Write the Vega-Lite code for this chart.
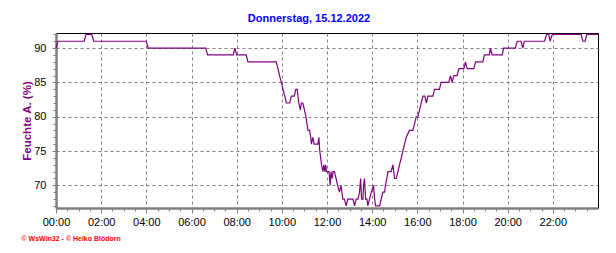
{
  "$schema": "https://vega.github.io/schema/vega-lite/v6.json",
  "width": 542,
  "height": 175,
  "autosize": {"type": "none"},
  "padding": {"left": 56, "top": 33, "right": 18, "bottom": 45},
  "background": "white",
  "title": {"text": "Donnerstag, 15.12.2022", "color": "#0000FF", "fontSize": 11, "fontWeight": "bold", "font": "Liberation Sans", "offset": 8, "dx": -18},
  "data": {"values": [
    {"h":0,"v":90},{"h":0.08,"v":91},{"h":1.25,"v":91},{"h":1.33,"v":92},{"h":1.58,"v":92},{"h":1.67,"v":91},
    {"h":4.0,"v":91},{"h":4.08,"v":90},{"h":6.63,"v":90},{"h":6.71,"v":89},{"h":7.85,"v":89},{"h":7.92,"v":90},
    {"h":8.0,"v":89},{"h":8.42,"v":89},{"h":8.5,"v":88},{"h":9.75,"v":88},{"h":9.83,"v":87},{"h":9.9,"v":86},
    {"h":9.98,"v":85},{"h":10.05,"v":84},{"h":10.13,"v":83},{"h":10.2,"v":82},{"h":10.35,"v":82},{"h":10.42,"v":83},
    {"h":10.55,"v":83},{"h":10.62,"v":84},{"h":10.68,"v":84},{"h":10.75,"v":82},{"h":10.82,"v":81},{"h":10.87,"v":82},
    {"h":10.93,"v":82},{"h":11.0,"v":81},{"h":11.07,"v":80},{"h":11.11,"v":79},{"h":11.16,"v":78},{"h":11.23,"v":78},
    {"h":11.28,"v":77},{"h":11.31,"v":76},{"h":11.37,"v":77},{"h":11.43,"v":76},{"h":11.6,"v":76},{"h":11.64,"v":77},
    {"h":11.68,"v":75},{"h":11.72,"v":74},{"h":11.76,"v":73},{"h":11.82,"v":72},{"h":11.86,"v":73},{"h":11.91,"v":72},
    {"h":11.94,"v":73},{"h":11.98,"v":72},{"h":12.09,"v":72},{"h":12.14,"v":70},{"h":12.18,"v":72},{"h":12.23,"v":71},
    {"h":12.27,"v":72},{"h":12.33,"v":72},{"h":12.4,"v":71},{"h":12.47,"v":70},{"h":12.55,"v":69},{"h":12.62,"v":70},
    {"h":12.7,"v":68},{"h":12.77,"v":68},{"h":12.85,"v":67},{"h":12.92,"v":68},{"h":13.15,"v":68},{"h":13.22,"v":67},
    {"h":13.29,"v":68},{"h":13.37,"v":68},{"h":13.44,"v":69},{"h":13.49,"v":71},{"h":13.53,"v":68},{"h":13.59,"v":68},
    {"h":13.62,"v":70},{"h":13.66,"v":71},{"h":13.71,"v":68},{"h":13.77,"v":68},{"h":13.81,"v":67},{"h":13.88,"v":68},
    {"h":13.96,"v":69},{"h":14.06,"v":70},{"h":14.11,"v":68},{"h":14.15,"v":67},{"h":14.33,"v":67},{"h":14.4,"v":68},
    {"h":14.47,"v":69},{"h":14.55,"v":69},{"h":14.59,"v":70},{"h":14.65,"v":71},{"h":14.7,"v":72},{"h":14.84,"v":72},
    {"h":14.92,"v":73},{"h":14.99,"v":71},{"h":15.07,"v":71},{"h":15.14,"v":72},{"h":15.21,"v":73},{"h":15.29,"v":74},
    {"h":15.36,"v":75},{"h":15.43,"v":76},{"h":15.51,"v":77},{"h":15.65,"v":78},{"h":15.8,"v":78},{"h":15.88,"v":79},
    {"h":15.95,"v":80},{"h":16.02,"v":80},{"h":16.1,"v":81},{"h":16.17,"v":82},{"h":16.25,"v":83},{"h":16.33,"v":83},
    {"h":16.4,"v":82},{"h":16.47,"v":83},{"h":16.69,"v":83},{"h":16.76,"v":84},{"h":16.98,"v":84},{"h":17.05,"v":85},
    {"h":17.39,"v":85},{"h":17.47,"v":86},{"h":17.54,"v":85},{"h":17.62,"v":86},{"h":17.76,"v":86},{"h":17.84,"v":87},
    {"h":18.06,"v":87},{"h":18.13,"v":88},{"h":18.21,"v":87},{"h":18.5,"v":87},{"h":18.58,"v":88},{"h":18.9,"v":88},
    {"h":18.97,"v":89},{"h":19.19,"v":89},{"h":19.24,"v":90},{"h":19.31,"v":89},{"h":19.76,"v":89},{"h":19.82,"v":90},
    {"h":20.34,"v":90},{"h":20.42,"v":91},{"h":20.59,"v":91},{"h":20.67,"v":90},{"h":20.74,"v":91},{"h":21.63,"v":91},
    {"h":21.73,"v":92},{"h":21.82,"v":92},{"h":21.88,"v":91},{"h":21.97,"v":92},{"h":23.25,"v":92},{"h":23.33,"v":91},
    {"h":23.43,"v":91},{"h":23.5,"v":92},{"h":24,"v":92}
  ]},
  "layer": [
    {
      "mark": {"type": "line", "color": "#800080", "strokeWidth": 1.2, "interpolate": "linear"},
      "encoding": {
        "x": {"field": "h", "type": "quantitative",
          "scale": {"domain": [0, 24], "nice": false, "zero": false},
          "axis": {"values": [0,2,4,6,8,10,12,14,16,18,20,22],
            "labelExpr": "(datum.value < 10 ? '0' : '') + datum.value + ':00'",
            "grid": true, "gridColor": "#808080", "gridDash": [3,3], "gridWidth": 1, "gridOpacity": 1,
            "domainColor": "#808080", "domainWidth": 2.5,
            "tickColor": "#808080", "tickSize": 5, "tickWidth": 1,
            "labelFont": "Liberation Sans", "labelFontSize": 11, "labelColor": "#000000", "labelPadding": 3,
            "labelFlush": false, "labelOverlap": false,
            "title": "© WsWin32 - © Heiko Blödorn", "titleX": -35, "titleY": 30, "titleAlign": "left",
            "titleBaseline": "middle", "titleColor": "#FF0000", "titleFontSize": 7, "titleFontWeight": "bold",
            "titleFont": "Liberation Sans"}},
        "y": {"field": "v", "type": "quantitative",
          "scale": {"domain": [66.7, 92.2], "nice": false, "zero": false},
          "axis": {"values": [70,75,80,85,90],
            "grid": true, "gridColor": "#808080", "gridDash": [3,3], "gridWidth": 1, "gridOpacity": 1,
            "domainColor": "#808080", "domainWidth": 2.5,
            "tickColor": "#808080", "tickSize": 4, "tickWidth": 1,
            "labelFont": "Liberation Sans", "labelFontSize": 11, "labelColor": "#000000", "labelPadding": 6,
            "title": "Feuchte A. (%)", "titleX": -29, "titleY": 87.5, "titleAngle": -90, "titleAlign": "center",
            "titleBaseline": "middle", "titleColor": "#800080", "titleFontSize": 11.5, "titleFontWeight": "bold",
            "titleFont": "Liberation Sans"}}
      }
    },
    {
      "mark": {"type": "line", "opacity": 0},
      "encoding": {
        "x": {"field": "h", "type": "quantitative",
          "axis": {"orient": "bottom", "values": [0,0.5,1,1.5,2,2.5,3,3.5,4,4.5,5,5.5,6,6.5,7,7.5,8,8.5,9,9.5,10,10.5,11,11.5,12,12.5,13,13.5,14,14.5,15,15.5,16,16.5,17,17.5,18,18.5,19,19.5,20,20.5,21,21.5,22,22.5,23,23.5],
            "labels": false, "grid": false, "domain": false, "ticks": true, "tickSize": 3, "tickColor": "#808080", "tickWidth": 1, "title": null}},
        "y": {"field": "v", "type": "quantitative",
          "axis": {"orient": "left", "values": [67,68,69,70,71,72,73,74,75,76,77,78,79,80,81,82,83,84,85,86,87,88,89,90,91,92],
            "labels": false, "grid": false, "domain": false, "ticks": true, "tickSize": 3, "tickColor": "#808080", "tickWidth": 1, "title": null}}
      }
    }
  ],
  "resolve": {"axis": {"x": "independent", "y": "independent"}},
  "config": {"view": {"stroke": "#000000", "strokeWidth": 1}}
}
